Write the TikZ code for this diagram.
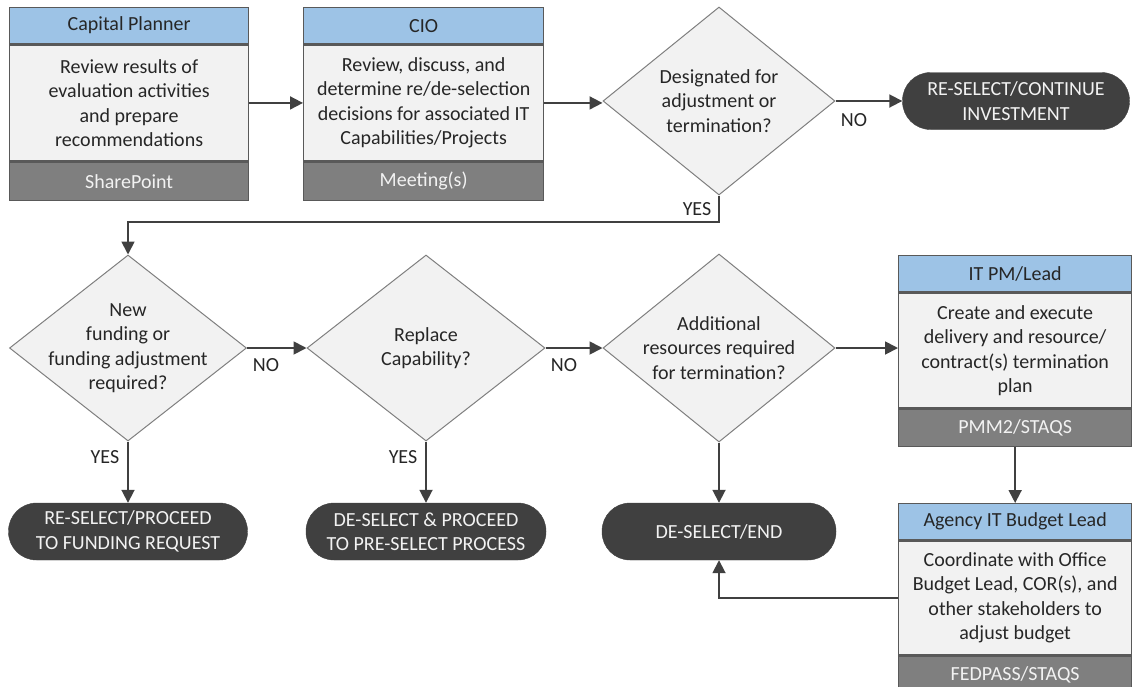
\documentclass[tikz,border=0pt]{standalone}
\usepackage{fontspec}
\setmainfont{Carlito}
\usetikzlibrary{shapes.geometric,arrows.meta,calc}
\definecolor{hdrblue}{HTML}{9DC3E6}
\definecolor{bodygray}{HTML}{F2F2F2}
\definecolor{footgray}{HTML}{7F7F7F}
\definecolor{edgecol}{HTML}{595959}
\definecolor{termfill}{HTML}{404040}
\definecolor{arrowcol}{HTML}{404040}
\definecolor{txtcol}{HTML}{262626}
\begin{document}
\begin{tikzpicture}[x=1pt,y=-1pt,
  font=\fontsize{20}{24.5}\selectfont,
  hdr/.style={rectangle, draw=edgecol, line width=1.3pt, fill=hdrblue, text=txtcol, minimum height=36pt, inner sep=0pt, anchor=north west},
  bodybox/.style={rectangle, draw=edgecol, line width=1.3pt, fill=bodygray, text=txtcol, align=center, inner sep=0pt, anchor=north},
  footbox/.style={rectangle, draw=edgecol, line width=1.3pt, fill=footgray, text=bodygray, inner sep=0pt, anchor=north},
  decision/.style={diamond, draw=footgray, line width=1pt, fill=bodygray, inner sep=0pt},
  dtext/.style={text=txtcol, align=center, inner sep=0pt},
  term/.style={rectangle, rounded corners=28pt, fill=termfill, draw=termfill, text=bodygray, align=center, minimum height=57pt, inner sep=0pt},
  arr/.style={draw=arrowcol, line width=1.8pt, -{Triangle[length=13pt,width=13pt]}},
  lbl/.style={text=txtcol, inner sep=0pt}
]
\useasboundingbox (0,0) rectangle (1132,686);

% Capital Planner
\node[hdr, minimum width=239pt] (p1h) at (9,7) {Capital Planner};
\node[bodybox, minimum width=239pt, minimum height=116pt] (p1b) at (p1h.south) {Review results of\\evaluation activities\\and prepare\\recommendations};
\node[footbox, minimum width=239pt, minimum height=38pt] (p1f) at (p1b.south) {SharePoint};

% CIO
\node[hdr, minimum width=240pt] (p2h) at (303,7) {CIO};
\node[bodybox, minimum width=240pt, minimum height=116pt] (p2b) at (p2h.south) {Review, discuss, and\\determine re/de-selection\\decisions for associated IT\\Capabilities/Projects};
\node[footbox, minimum width=240pt, minimum height=38pt] (p2f) at (p2b.south) {Meeting(s)};

% IT PM/Lead
\node[hdr, minimum width=233pt] (p3h) at (898,255) {IT PM/Lead};
\node[bodybox, minimum width=233pt, minimum height=115pt] (p3b) at (p3h.south) {Create and execute\\delivery and resource/\\contract(s) termination\\plan};
\node[footbox, minimum width=233pt, minimum height=37pt] (p3f) at (p3b.south) {PMM2/STAQS};

% Agency IT Budget Lead
\node[hdr, minimum width=233pt] (p4h) at (898,503) {Agency IT Budget Lead};
\node[bodybox, minimum width=233pt, minimum height=114pt] (p4b) at (p4h.south) {Coordinate with Office\\Budget Lead, COR(s), and\\other stakeholders to\\adjust budget};
\node[footbox, minimum width=233pt, minimum height=38pt] (p4f) at (p4b.south) {FEDPASS/STAQS};

% Decisions
\node[decision, minimum width=232pt, minimum height=188pt] (d1) at (719,101) {};
\node[dtext] (d1t) at (d1.center) {Designated for\\adjustment or\\termination?};
\node[decision, minimum width=237pt, minimum height=186pt] (d2) at (128,348) {};
\node[dtext] (d2t) at (d2.center) {New\\funding or\\funding adjustment\\required?};
\node[decision, minimum width=238pt, minimum height=186pt] (d3) at (426,348) {};
\node[dtext] (d3t) at (d3.center) {Replace\\Capability?};
\node[decision, minimum width=232pt, minimum height=188pt] (d4) at (719,348) {};
\node[dtext] (d4t) at (d4.center) {Additional\\resources required\\for termination?};

% Terminals
\node[term, minimum width=227pt] (t1) at (1016,101) {RE-SELECT/CONTINUE\\INVESTMENT};
\node[term, minimum width=239pt] (t2) at (128,531.5) {RE-SELECT/PROCEED\\TO FUNDING REQUEST};
\node[term, minimum width=240pt] (t3) at (426,531.5) {DE-SELECT \& PROCEED\\TO PRE-SELECT PROCESS};
\node[term, minimum width=234pt] (t4) at (719,531.5) {DE-SELECT/END};

% Connectors
\draw[arr] (p1b.east) -- (p1b.east -| p2b.west);
\draw[arr] (p2b.east) -- (p2b.east -| d1.west);
\draw[arr] (d1.east) -- (d1.east -| t1.west);
\coordinate (c1) at (719,222);
\draw[arr] (d1.south) -- (c1) -| (d2.north);
\draw[arr] (d2.east) -- (d3.west);
\draw[arr] (d3.east) -- (d4.west);
\draw[arr] (d4.east) -- (d4.east -| p3b.west);
\draw[arr] (d2.south) -- (t2.north);
\draw[arr] (d3.south) -- (t3.north);
\draw[arr] (d4.south) -- (t4.north);
\draw[arr] (p3f.south) -- (p3f.south |- p4h.north);
\draw[arr] (p4b.west) -| (t4.south);

% Labels
\node[lbl] (lno1) at (854,120) {NO};
\node[lbl] (lyes1) at (697,209) {YES};
\node[lbl] (lno2) at (266,365) {NO};
\node[lbl] (lno3) at (564,365) {NO};
\node[lbl] (lyes2) at (105,457) {YES};
\node[lbl] (lyes3) at (403,457) {YES};
\end{tikzpicture}
\end{document}
